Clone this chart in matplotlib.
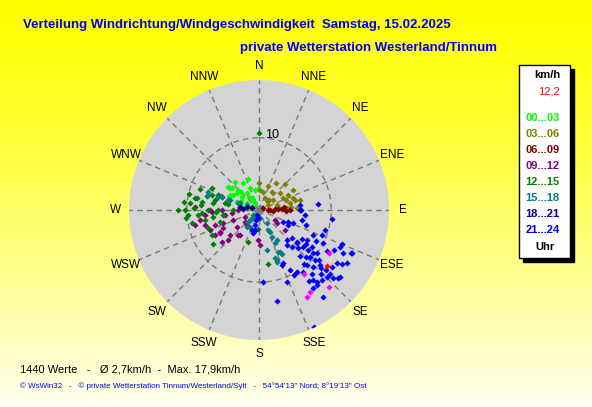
import matplotlib.pyplot as plt
import numpy as np

# wind direction (deg) and speed (km/h) per 3-hour block
dir_00_03 = [319, 329, 338, 307, 314, 325, 349, 300, 307, 330, 290, 300, 330, 280, 282, 358, 307, 329, 308, 297, 315, 322, 340, 295, 310]
spd_00_03 = [5.1, 4.4, 3.3, 5.1, 4.0, 2.9, 2.8, 4.2, 3.0, 1.9, 3.25, 1.9, 1.1, 2.4, 1.3, 2.9, 5.4, 1.6, 3.9, 4.5, 3.5, 2.2, 4.6, 2.8, 4.8]

dir_03_06 = [32, 45, 12, 36, 51, 63, 71, 76, 27, 55, 63, 77, 61, 81, 86, 87, 56, 3, 75, 75, 39, 0, 20, 60, 85, 45, 70]
spd_03_06 = [4.4, 5.1, 2.6, 3.1, 3.75, 4.5, 5.0, 5.9, 1.9, 2.4, 3.7, 4.4, 1.4, 2.7, 3.9, 5.3, 0.5, 2.8, 5.2, 2.6, 1.8, 3.75, 3.5, 5.5, 4.5, 2.0, 4.0]

dir_06_09 = [63, 90, 86, 88, 90, 87, 92, 90, 95, 84]
spd_06_09 = [0.6, 1.5, 2.2, 3.2, 1.25, 2.6, 3.75, 4.3, 2.0, 3.5]

dir_09_12 = [273, 260, 268, 270, 262, 264, 270, 250, 249, 232, 241, 229, 220, 226, 229, 240, 243, 229, 240,
             243, 251, 219, 122, 128, 182, 178, 270, 126, 217, 257, 248, 265, 255]
spd_09_12 = [8.9, 8.3, 6.5, 5.1, 4.8, 3.8, 2.9, 5.3, 3.9, 3.9, 6.2, 5.3, 4.5, 6.0, 6.8, 7.0, 2.2, 2.6, 6.3,
             5.6, 6.5, 2.7, 2.6, 4.6, 4.2, 4.9, 6.8, 3.1, 4.4, 9.1, 7.3, 7.5, 7.8]

dir_12_15 = [270, 290, 276, 281, 266, 259, 278, 288, 283, 289, 282, 270, 270, 267, 260, 261, 253, 251, 242, 234,
             199, 281, 270, 264, 281, 183, 171, 0, 275, 285, 278, 272, 290, 295, 265, 268, 262, 276, 283, 270]
spd_12_15 = [11.25, 8.7, 9.6, 8.8, 9.9, 9.5, 7.9, 6.85, 6.25, 5.4, 4.8, 7.1, 5.7, 7.9, 7.6, 6.5, 5.7, 7.5, 7.3, 7.9,
             4.7, 4.4, 3.6, 10.1, 9.0, 2.6, 7.6, 10.7, 8.0, 7.5, 6.5, 9.0, 6.0, 7.2, 8.5, 6.0, 5.0, 10.5, 10.0, 10.2]

dir_15_18 = [286, 288, 293, 293, 221, 222, 215, 289, 288, 288, 290, 173, 148, 156, 154, 154, 160, 156, 169, 153,
             149, 153, 162, 230, 223, 208, 289, 289, 152, 161]
spd_15_18 = [7.4, 3.1, 1.8, 1.1, 1.3, 1.9, 2.9, 7.5, 6.0, 4.5, 2.8, 1.1, 2.1, 3.05, 4.2, 5.1, 7.4, 6.4, 5.7, 3.4,
             4.9, 6.5, 7.0, 1.1, 2.3, 2.7, 4.3, 5.4, 6.9, 7.6]

dir_18_21 = [279, 284, 286, 275]
spd_18_21 = [2.7, 1.7, 1.0, 2.2]

dir_21_24 = [84, 83, 90, 97, 103, 111, 117, 107, 112, 115, 122, 130, 137, 130, 141, 138, 134, 130, 129, 128.5,
             117, 118, 114.5, 117, 115, 133, 132, 132, 132, 132, 124, 123, 121, 156, 153, 152, 159, 139, 136.5,
             134.6, 138, 141, 145, 143.7, 129.6, 177, 191, 169, 155, 130.7, 148.5, 144.6, 142.4, 142.3, 115, 112,
             157, 132.6, 202, 197, 195, 191, 195, 187, 199, 117, 113, 90, 96, 108,
             125, 127, 130, 135, 138, 140, 133, 128, 121, 118, 124, 140, 145, 136, 131, 126]
spd_21_24 = [8.2, 5.7, 5.8, 10.2, 6.1, 5.1, 4.5, 9.6, 9.4, 8.3, 7.9, 6.0, 5.7, 6.9, 6.2, 6.9, 7.6, 8.0, 8.8, 9.6,
             10.0, 11.7, 12.4, 13.1, 14.2, 9.6, 10.4, 11.4, 12.4, 13.2, 13.1, 13.7, 14.2, 8.1, 9.4, 10.2, 10.7, 10.1, 10.9,
             13.3, 13.1, 12.8, 13.1, 15.0, 14.6, 10.0, 2.8, 12.9, 17.9, 14.5, 10.1, 10.6, 12.3, 13.2, 14.0, 12.4,
             8.3, 14.0, 0.75, 1.45, 2.15, 2.8, 3.3, 1.1, 2.9, 3.7, 4.3, 5.7, 6.4, 6.8,
             9.0, 10.0, 10.8, 9.3, 8.5, 9.8, 11.8, 12.9, 11.0, 9.0, 7.2, 11.5, 12.0, 12.3, 7.0, 8.0]

dir_extra = [121.6, 144.5, 148, 151, 138]
spd_extra = [11.4, 10.8, 13.4, 13.8, 14.4]

dir_now = [129.5]
spd_now = [12.2]

hour_labels = ['00...03', '03...06', '06...09', '09...12', '12...15', '15...18', '18...21', '21...24']
hour_colors = ['#00ff00', '#808000', '#800000', '#800080', '#008000', '#008080', '#000080', '#0000ff']
compass = ['N', 'NNE', 'NE', 'ENE', 'E', 'ESE', 'SE', 'SSE', 'S', 'SSW', 'SW', 'WSW', 'W', 'WNW', 'NW', 'NNW']

plt.rcParams['font.family'] = ['Liberation Sans', 'DejaVu Sans']

W, H = 592, 407
fig = plt.figure(figsize=(W / 100, H / 100), dpi=100)


def fx(x):
    return x / W


def fy(y):
    return 1 - y / H


# yellow gradient background
bg = fig.add_axes([0, 0, 1, 1])
grad = np.linspace(0, 1, 256)
cols = np.ones((256, 1, 3))
cols[:, 0, 2] = 0.94 * grad ** 1.3
bg.imshow(cols, aspect='auto', extent=[0, 1, 0, 1])
bg.set_axis_off()

# polar plot: center (259,210) px, radius 130 px
cx, cy, R = 259, 210, 130
ax = fig.add_axes([fx(cx - R), fy(cy + R), 2 * R / W, 2 * R / H], projection='polar')
ax.set_theta_zero_location('N')
ax.set_theta_direction(-1)
ax.set_ylim(0, 18)
ax.set_facecolor('#d4d4d4')
ax.spines['polar'].set_visible(False)
ax.set_thetagrids(np.arange(0, 360, 22.5), labels=[''] * 16)
ax.set_rgrids([10], labels=[''])
ax.grid(True, color='#7a7a7a', linestyle=(0, (4, 3)), linewidth=1)
ax.text(np.deg2rad(5), 10.4, '10', ha='left', va='center', fontsize=9)

for i, name in enumerate(compass):
    ax.text(np.deg2rad(i * 22.5), 19.9, name, ha='center', va='center', fontsize=8.5, clip_on=False)

groups = [(dir_00_03, spd_00_03), (dir_03_06, spd_03_06), (dir_06_09, spd_06_09), (dir_09_12, spd_09_12),
          (dir_12_15, spd_12_15), (dir_15_18, spd_15_18), (dir_18_21, spd_18_21), (dir_21_24, spd_21_24)]
for (d, s), c in zip(groups, hour_colors):
    ax.scatter(np.deg2rad(d), s, marker='D', s=10, color=c, linewidths=0, zorder=3)
ax.scatter(np.deg2rad(dir_extra), spd_extra, marker='D', s=10, color='#ff00ff', linewidths=0, zorder=3)
ax.scatter(np.deg2rad(dir_now), spd_now, marker='D', s=10, color='#ff0000', linewidths=0, zorder=4)

# titles
fig.text(fx(23), fy(25), 'Verteilung Windrichtung/Windgeschwindigkeit  Samstag, 15.02.2025',
         color='#0000ff', fontsize=9.5, fontweight='bold', ha='left', va='center')
fig.text(fx(497), fy(48), 'private Wetterstation Westerland/Tinnum',
         color='#0000ff', fontsize=9.5, fontweight='bold', ha='right', va='center')

# legend box with shadow
bg.add_patch(plt.Rectangle((fx(523), fy(262)), (570 - 519) / W, (258 - 65) / H,
                           transform=fig.transFigure, color='black', zorder=2))
bg.add_patch(plt.Rectangle((fx(519), fy(258)), (570 - 519) / W, (258 - 65) / H,
                           transform=fig.transFigure, facecolor='white', edgecolor='black', lw=1, zorder=3))
fig.text(fx(547), fy(75), 'km/h', fontsize=8, fontweight='bold', ha='center', va='center')
fig.text(fx(560), fy(92), '12,2', fontsize=8, color='#ff0000', ha='right', va='center')
for i, (lab, c) in enumerate(zip(hour_labels, hour_colors)):
    fig.text(fx(542.5), fy(118 + 16 * i), lab, fontsize=8, fontweight='bold', color=c, ha='center', va='center')
fig.text(fx(545), fy(247), 'Uhr', fontsize=8, fontweight='bold', ha='center', va='center')

# footer
fig.text(fx(20), fy(370), '1440 Werte   -   Ø 2,7km/h  -  Max. 17,9km/h', fontsize=8, ha='left', va='center')
fig.text(fx(20), fy(386), '© WsWin32   -   © private Wetterstation Tinnum/Westerland/Sylt   -   '
         '54°54\'13" Nord; 8°19\'13" Ost', fontsize=5.8, color='#0000ff', ha='left', va='center')

fig.savefig('out.png', dpi=100)
